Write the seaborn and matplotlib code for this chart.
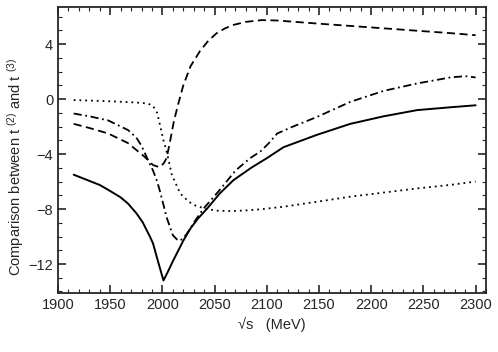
import pandas as pd
import matplotlib
matplotlib.use("Agg")
import matplotlib.pyplot as plt
import seaborn as sns
from matplotlib.ticker import MultipleLocator

# Valores
solid_x = [1915, 1930, 1940, 1948, 1960, 1967, 1975, 1981, 1988, 1991, 1995, 1998, 2001,
           2005, 2010, 2014, 2020, 2027, 2034, 2043, 2055, 2068, 2085, 2100, 2116, 2148,
           2180, 2212, 2244, 2275, 2300]
solid_y = [-5.5, -5.95, -6.25, -6.6, -7.15, -7.6, -8.3, -8.95, -10.0, -10.5, -11.6, -12.4,
           -13.2, -12.6, -11.8, -11.2, -10.3, -9.4, -8.7, -7.95, -6.86, -5.9, -5.0, -4.3,
           -3.5, -2.6, -1.8, -1.25, -0.8, -0.6, -0.45]

dotted_x = [1915, 1948, 1975, 1986, 1991, 1995, 1998, 2001, 2004, 2009, 2017, 2025, 2030,
            2042, 2053, 2065, 2080, 2094, 2116, 2148, 2180, 2212, 2244, 2275, 2300]
dotted_y = [-0.07, -0.15, -0.25, -0.32, -0.5, -1.0, -2.0, -3.0, -3.8, -5.5, -6.86, -7.45,
            -7.7, -8.0, -8.12, -8.15, -8.1, -8.02, -7.83, -7.47, -7.1, -6.8, -6.5, -6.25,
            -6.0]

dashed_x = [1915, 1930, 1948, 1967, 1983, 1991, 1997, 2001, 2004, 2007, 2011, 2015, 2020,
            2027, 2036, 2044, 2052, 2060, 2068, 2080, 2095, 2110, 2148, 2212, 2276, 2300]
dashed_y = [-1.8, -2.1, -2.5, -3.2, -4.2, -4.8, -4.95, -4.7, -4.3, -3.2, -1.6, -0.4, 1.0,
            2.4, 3.5, 4.25, 4.8, 5.15, 5.4, 5.62, 5.75, 5.72, 5.5, 5.15, 4.8, 4.65]

dashdot_x = [1915, 1930, 1948, 1967, 1975, 1980, 1986, 1991, 1995, 1998, 2004, 2010, 2015,
             2019, 2023, 2030, 2039, 2055, 2070, 2084, 2094, 2102, 2110, 2125, 2148, 2180,
             2212, 2244, 2276, 2290, 2300]
dashdot_y = [-1.05, -1.25, -1.55, -2.25, -2.8, -3.4, -4.4, -5.2, -6.0, -6.8, -8.6, -9.9,
             -10.3, -10.2, -9.85, -9.0, -8.0, -6.6, -5.2, -4.3, -3.8, -3.2, -2.5, -2.0,
             -1.3, -0.2, 0.6, 1.14, 1.58, 1.67, 1.58]

series = {
    "solid": (solid_x, solid_y),
    "dotted": (dotted_x, dotted_y),
    "dashed": (dashed_x, dashed_y),
    "dashdot": (dashdot_x, dashdot_y),
}

linhas = {
    "solid": (None, 1.4),
    "dotted": ((1, 2.2), 1.3),
    "dashed": ((4.5, 2.5), 1.3),
    "dashdot": ((4.5, 2, 1, 2), 1.3),
}

sns.set_style("ticks")
plt.rcParams["font.family"] = ["Liberation Sans", "DejaVu Sans"]
plt.rcParams["mathtext.fontset"] = "custom"
plt.rcParams["mathtext.rm"] = "Liberation Sans"
plt.rcParams["mathtext.it"] = "Liberation Sans"

fig = plt.figure(figsize=(4.98, 3.52), dpi=100)
ax = fig.add_axes([0.1165, 0.168, 0.8595, 0.812])

for nome, (xs, ys) in series.items():
    df = pd.DataFrame({"x": xs, "y": ys})
    dash, lw = linhas[nome]
    sns.lineplot(data=df, x="x", y="y", color="black", lw=lw, ax=ax, sort=False)
    line = ax.lines[-1]
    if dash is not None:
        line.set_dashes(dash)

ax.set_xlim(1900, 2310)
ax.set_ylim(-14.1, 6.7)
ax.xaxis.set_major_locator(MultipleLocator(50))
ax.xaxis.set_minor_locator(MultipleLocator(10))
ax.yaxis.set_major_locator(MultipleLocator(4))
ax.yaxis.set_minor_locator(MultipleLocator(1))
ax.tick_params(which="both", direction="in", top=True, right=True, labelsize=10.5)
ax.tick_params(which="major", length=6, width=1.2)
ax.tick_params(which="minor", length=3, width=0.8)
for s in ax.spines.values():
    s.set_linewidth(1.3)

ax.set_xlabel("\u221as   (MeV)", fontsize=10.5)
ax.set_ylabel("Comparison between t $^{(2)}$ and t $^{(3)}$", fontsize=10.5)
ax.yaxis.set_label_coords(-0.075, 0.44)

fig.savefig("out.png", dpi=100)
